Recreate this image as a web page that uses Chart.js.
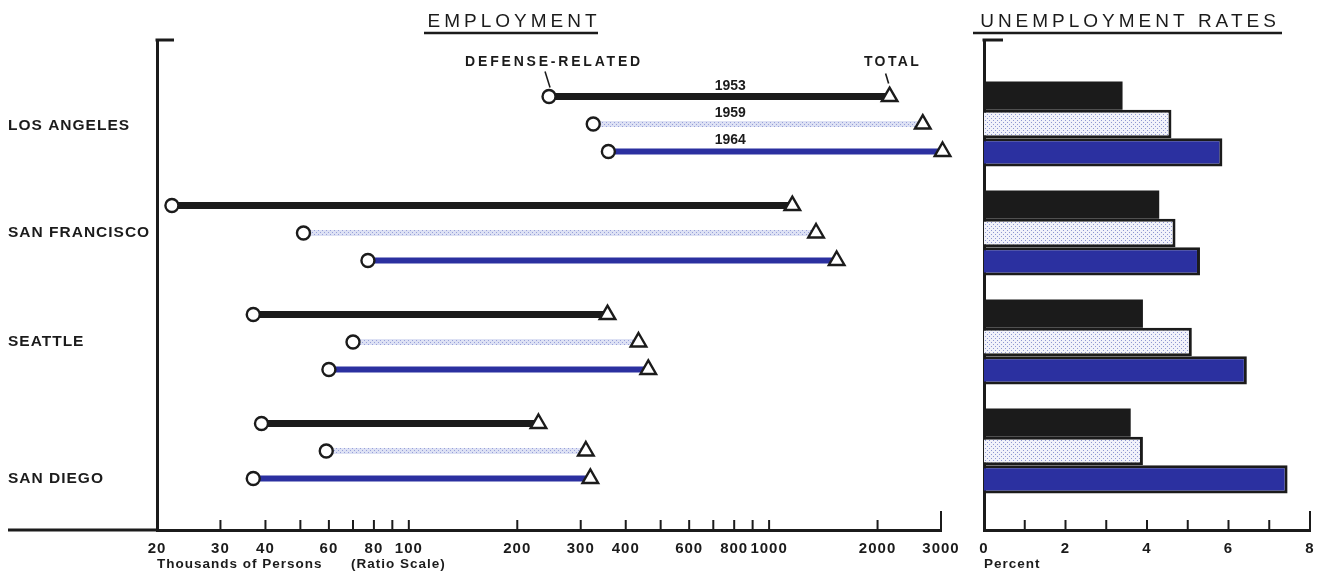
<!DOCTYPE html>
<html><head><meta charset="utf-8">
<script src="https://cdn.jsdelivr.net/npm/chart.js@4.4.1/dist/chart.umd.min.js"></script>
<style>
html,body{margin:0;padding:0;background:#fff;width:1317px;height:573px;overflow:hidden}
#left{position:absolute;left:0;top:0;width:965px;height:573px}
#right{position:absolute;left:965px;top:0;width:352px;height:573px}
</style></head><body>
<div id="left"><canvas id="c1"></canvas></div>
<div id="right"><canvas id="c2"></canvas></div>
<script>
// ---- data ----
const cities = ['LOS ANGELES', 'SAN FRANCISCO', 'SEATTLE', 'SAN DIEGO'];
const years = ['1953', '1959', '1964'];
// employment, thousands of persons
const defense1953 = [245, 22, 37, 39];
const total1953   = [2160, 1160, 356, 229];
const defense1959 = [325, 51, 70, 59];
const total1959   = [2670, 1350, 434, 310];
const defense1964 = [358, 77, 60, 37];
const total1964   = [3030, 1540, 462, 319];
// unemployment rates, percent
const rate1953 = [3.4, 4.3, 3.9, 3.6];
const rate1959 = [4.6, 4.7, 5.1, 3.9];
const rate1964 = [5.85, 5.3, 6.45, 7.45];
// axis ticks
const xTickValues = [20,30,40,50,60,70,80,90,100,200,300,400,500,600,700,800,900,1000,2000,3000];
const xTickLabels = [20,30,40,60,80,100,200,300,400,600,800,1000,2000,3000];
const pctTickLabels = [0,2,4,6,8];

const defense = [defense1953, defense1959, defense1964];
const totals = [total1953, total1959, total1964];
const rates = [rate1953, rate1959, rate1964];

// ---- styles ----
const INK = '#1b1b1b';
const BLUE = '#2b30a0';
const FONT = "'Liberation Sans', Arial, sans-serif";
function stipple(bg, dot) {
  const c = document.createElement('canvas'); c.width = 4; c.height = 4;
  const g = c.getContext('2d');
  g.fillStyle = bg; g.fillRect(0, 0, 4, 4);
  g.fillStyle = dot; g.fillRect(0, 0, 1, 1); g.fillRect(2, 2, 1, 1);
  return g.createPattern(c, 'repeat');
}
const lineStipple = stipple('#dde1f4', '#97a0da');
const barStipple = stipple('#f1f2fa', '#8e97d2');
const lineColors = [INK, lineStipple, BLUE];
const lineWidths = [7, 6, 6];
const barFills = [INK, barStipple, BLUE];
const barBorders = [0, 3, 3];

const Y_MIN = -0.771, Y_MAX = 3.725;
const rowPos = (ci, yi) => ci + (yi - 1) * 0.252;
const cityLabelPos = [0.02, 1, 2, 3.25];

function seg(ctx, x1, y1, x2, y2) { ctx.beginPath(); ctx.moveTo(x1, y1); ctx.lineTo(x2, y2); ctx.stroke(); }
function spacedText(ctx, text, x, y, font, spacing, align) {
  ctx.save();
  ctx.font = font; ctx.letterSpacing = spacing + 'px';
  ctx.textAlign = align || 'center'; ctx.textBaseline = 'alphabetic';
  ctx.fillStyle = INK;
  ctx.fillText(text, x, y);
  ctx.restore();
}
const spacingPlugin = {
  id: 'spacing',
  beforeLayout(chart) { chart.ctx.letterSpacing = '1px'; },
  beforeDraw(chart) { chart.ctx.letterSpacing = '1px'; }
};
function drawUpTicks(ctx, scale, area, values) {
  ctx.save();
  ctx.strokeStyle = INK; ctx.lineWidth = 2;
  values.forEach(v => {
    if (v === scale.min) return;
    const px = scale.getPixelForValue(v);
    const h = v === scale.max ? 19 : 10;
    seg(ctx, px, area.bottom, px, area.bottom - h);
  });
  ctx.restore();
}
const fitX = s => { s.height = 43; s.paddingLeft = 0; s.paddingRight = 0; };

// ---- left: employment ----
const empDatasets = [];
years.forEach((yr, yi) => {
  cities.forEach((city, ci) => {
    empDatasets.push({
      label: city + ' ' + yr,
      showLine: true,
      clip: false,
      data: [{ x: defense[yi][ci], y: rowPos(ci, yi) }, { x: totals[yi][ci], y: rowPos(ci, yi) }],
      borderColor: lineColors[yi],
      borderWidth: lineWidths[yi],
      borderCapStyle: 'butt',
      pointStyle: ['circle', 'triangle'],
      pointRadius: [6.5, 9],
      pointBackgroundColor: '#ffffff',
      pointBorderColor: INK,
      pointBorderWidth: 2.4
    });
  });
});

const leftExtras = {
  id: 'leftExtras',
  afterDraw(chart) {
    const { ctx, chartArea: a, scales: { x, y } } = chart;
    ctx.save();
    ctx.strokeStyle = INK; ctx.lineWidth = 3;
    seg(ctx, 8, a.bottom, a.left, a.bottom);
    seg(ctx, a.left - 1.5, a.top, a.left + 17, a.top);
    ctx.restore();
    drawUpTicks(ctx, x, a, xTickValues);
    // title
    spacedText(ctx, 'EMPLOYMENT', 514, 27, `400 19px ${FONT}`, 4);
    ctx.save(); ctx.strokeStyle = INK; ctx.lineWidth = 2.5; seg(ctx, 424, 33, 598, 33); ctx.restore();
    // callouts
    const py = y.getPixelForValue(rowPos(0, 0));
    const pd = x.getPixelForValue(defense1953[0]);
    const pt = x.getPixelForValue(total1953[0]);
    spacedText(ctx, 'DEFENSE-RELATED', pd + 5, py - 31, `bold 14px ${FONT}`, 2.8);
    spacedText(ctx, 'TOTAL', pt + 3, py - 31, `bold 14px ${FONT}`, 2.4);
    ctx.save(); ctx.strokeStyle = INK; ctx.lineWidth = 1.6;
    seg(ctx, pd - 4, py - 25, pd + 1, py - 9);
    seg(ctx, pt - 4, py - 23, pt - 1, py - 13);
    ctx.restore();
    years.forEach((yr, yi) => {
      spacedText(ctx, yr, x.getPixelForValue(780), y.getPixelForValue(rowPos(0, yi)) - 7, `bold 14px ${FONT}`, 0);
    });
  }
};

new Chart(document.getElementById('c1'), {
  type: 'scatter',
  data: { datasets: empDatasets },
  plugins: [spacingPlugin, leftExtras],
  options: {
    responsive: true, maintainAspectRatio: false, animation: false, events: [],
    layout: { padding: { left: 8, top: 40, right: 24, bottom: 0 } },
    plugins: { legend: { display: false }, tooltip: { enabled: false } },
    scales: {
      x: {
        type: 'logarithmic', min: 20, max: 3000, position: 'bottom', offset: false,
        afterBuildTicks: s => { s.ticks = xTickValues.map(v => ({ value: v })); },
        afterFit: fitX,
        ticks: {
          autoSkip: false, maxRotation: 0, padding: 10, color: INK,
          font: { family: FONT, size: 15, weight: 'bold' },
          callback: v => xTickLabels.includes(v) ? String(v) : ''
        },
        grid: { display: false, drawTicks: false },
        border: { display: true, width: 3, color: INK },
        title: {
          display: true, align: 'start', text: 'Thousands of Persons      (Ratio Scale)',
          color: INK, font: { family: FONT, size: 13.5, weight: 'bold' }, padding: { top: 0, bottom: 1 }
        }
      },
      y: {
        type: 'linear', reverse: true, min: Y_MIN, max: Y_MAX, offset: false,
        afterBuildTicks: s => { s.ticks = cityLabelPos.map(v => ({ value: v })); },
        afterFit: s => { s.width = 149; },
        ticks: {
          autoSkip: false, crossAlign: 'far', padding: 5, color: INK,
          font: { family: FONT, size: 15.5, weight: 'bold' },
          callback: (v, i) => cities[i]
        },
        grid: { display: false, drawTicks: false },
        border: { display: true, width: 3, color: INK }
      }
    }
  }
});

// ---- right: unemployment rates ----
const rightExtras = {
  id: 'rightExtras',
  afterDraw(chart) {
    const { ctx, chartArea: a, scales: { x } } = chart;
    ctx.save();
    ctx.strokeStyle = INK; ctx.lineWidth = 3;
    seg(ctx, a.left - 1.5, a.top, a.left + 19, a.top);
    ctx.restore();
    drawUpTicks(ctx, x, a, x.ticks.map(t => t.value));
    spacedText(ctx, 'UNEMPLOYMENT RATES', 165, 27, `400 19px ${FONT}`, 4);
    ctx.save(); ctx.strokeStyle = INK; ctx.lineWidth = 2.5; seg(ctx, 8, 33, 317, 33); ctx.restore();
  }
};

new Chart(document.getElementById('c2'), {
  type: 'bar',
  data: {
    datasets: years.map((yr, yi) => ({
      label: yr,
      data: rates[yi].map((r, ci) => ({ x: r, y: ci })),
      backgroundColor: barFills[yi],
      borderColor: INK,
      borderWidth: barBorders[yi],
      borderSkipped: 'start',
      categoryPercentage: 0.78,
      barPercentage: 1
    }))
  },
  plugins: [spacingPlugin, rightExtras],
  options: {
    indexAxis: 'y',
    responsive: true, maintainAspectRatio: false, animation: false, events: [],
    layout: { padding: { left: 0, top: 40, right: 7, bottom: 0 } },
    plugins: { legend: { display: false }, tooltip: { enabled: false } },
    scales: {
      y: {
        type: 'linear', reverse: true, min: Y_MIN, max: Y_MAX, offset: false,
        afterBuildTicks: s => { s.ticks = cities.map((c, i) => ({ value: i })); },
        afterFit: s => { s.width = 19; },
        ticks: { display: false },
        grid: { display: false, drawTicks: false, offset: false },
        border: { display: true, width: 3, color: INK }
      },
      x: {
        type: 'linear', min: 0, max: 8, offset: false,
        afterFit: fitX,
        ticks: {
          stepSize: 1, autoSkip: false, maxRotation: 0, padding: 10, color: INK,
          font: { family: FONT, size: 15, weight: 'bold' },
          callback: v => pctTickLabels.includes(v) ? String(v) : ''
        },
        grid: { display: false, drawTicks: false },
        border: { display: true, width: 3, color: INK },
        title: {
          display: true, align: 'start', text: 'Percent',
          color: INK, font: { family: FONT, size: 13.5, weight: 'bold' }, padding: { top: 0, bottom: 1 }
        }
      }
    }
  }
});
</script>
</body></html>
